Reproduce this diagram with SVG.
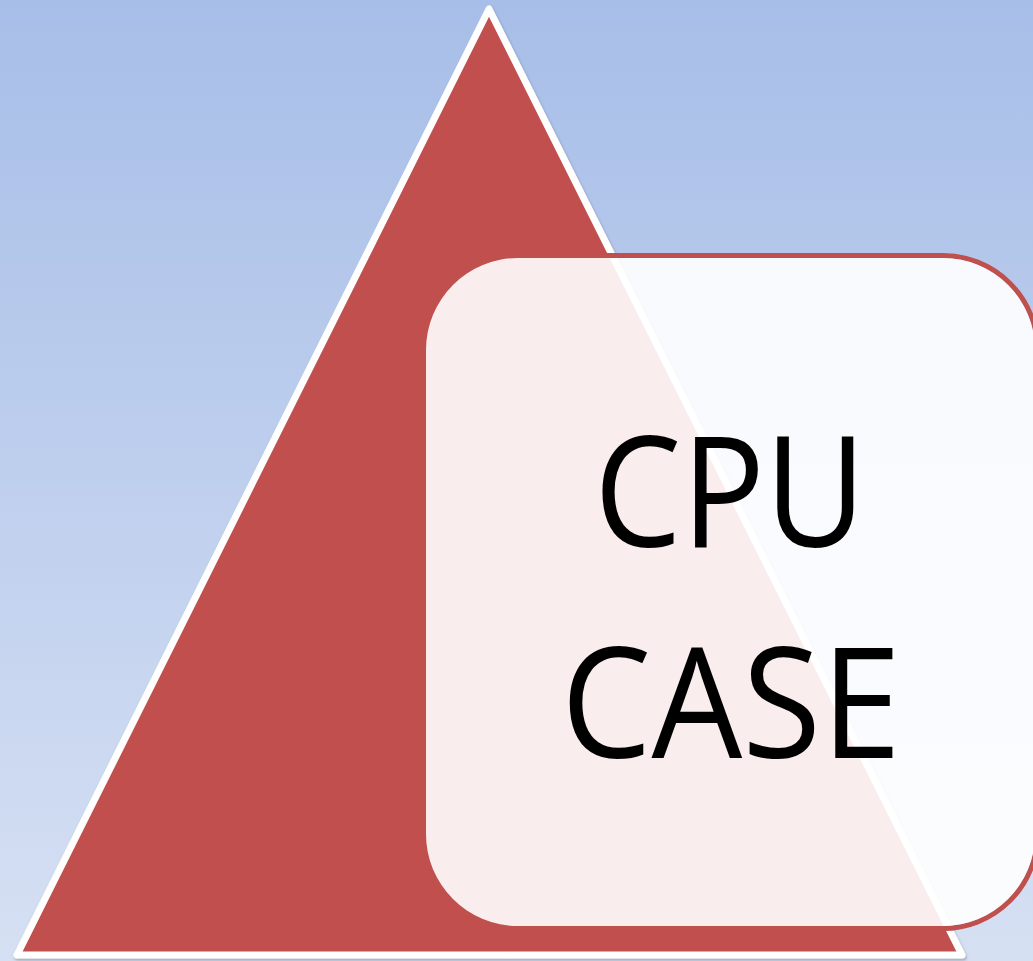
<svg xmlns="http://www.w3.org/2000/svg" width="1033" height="961" viewBox="0 0 1033 961">
  <defs>
    <linearGradient id="bg" x1="0" y1="0" x2="0" y2="1">
      <stop offset="0" stop-color="#a7bee8"/>
      <stop offset="1" stop-color="#d6e0f3"/>
    </linearGradient>
    <filter id="shadow" x="-5%" y="-5%" width="110%" height="110%">
      <feDropShadow dx="1" dy="2" stdDeviation="1.5" flood-color="#000" flood-opacity="0.25"/>
    </filter>
  </defs>
  <style>
    .tri { fill: #c0504d; stroke: #ffffff; stroke-width: 7; stroke-linejoin: round; }
    .boxStroke { fill: none; stroke: #c0504d; stroke-width: 5; }
    .boxFill { fill: #ffffff; fill-opacity: 0.9; }
    .label { font-family: "Open Sans", "Noto Sans", "Liberation Sans", sans-serif; font-size: 154px; font-weight: 500; fill: #000000; text-anchor: middle; }
  </style>
  <rect x="0" y="0" width="1033" height="961" fill="url(#bg)"/>
  <g id="triangle">
    <polygon class="tri" points="489,9 17,955 962,955" filter="url(#shadow)"/>
  </g>
  <g id="cpu-case">
    <rect class="boxStroke" x="423.5" y="255.5" width="614" height="673" rx="94.5" ry="94.5"/>
    <rect class="boxFill" x="426" y="258" width="609" height="668" rx="92" ry="92"/>
    <text class="label" x="730" y="547" textLength="272" lengthAdjust="spacingAndGlyphs">CPU</text>
    <text class="label" x="731" y="758" textLength="340" lengthAdjust="spacingAndGlyphs">CASE</text>
  </g>
  <g id="connectors"></g>
</svg>
